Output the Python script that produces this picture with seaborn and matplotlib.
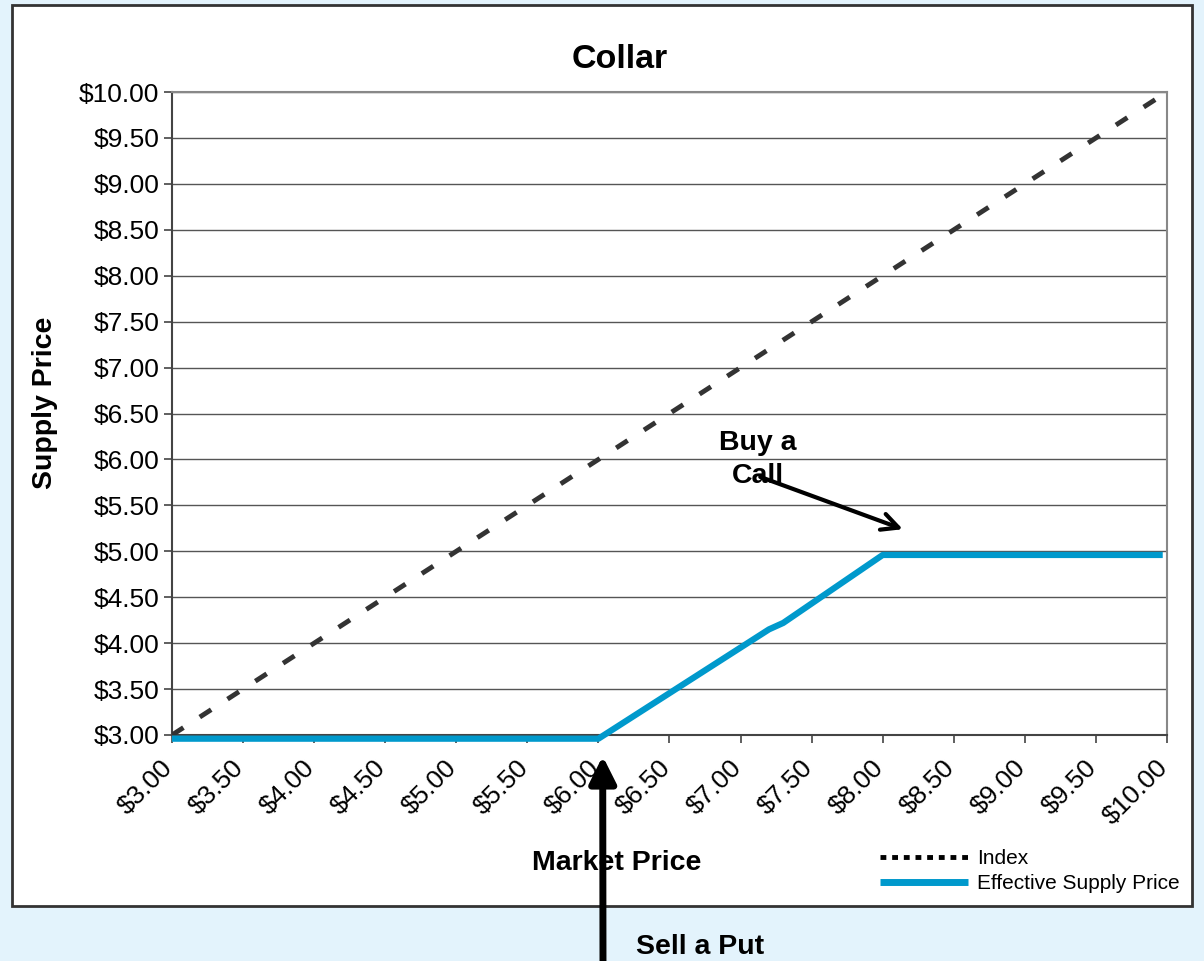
import matplotlib
matplotlib.use("Agg")
import matplotlib.pyplot as plt
from matplotlib.lines import Line2D
from matplotlib.patches import Rectangle
from matplotlib.transforms import ScaledTranslation
import numpy as np
import pandas as pd
import seaborn as sns

# Series values
index_x = [3.0, 9.92]
index_y = [3.0, 9.92]
supply_x = [3.0, 6.0, 7.2, 7.3, 8.0, 9.97]
supply_y = [2.96, 2.96, 4.15, 4.22, 4.96, 4.96]
tick_values = [3.0 + 0.5 * i for i in range(15)]
tick_labels = [f"${v:.2f}" for v in tick_values]

BLUE = "#0099CC"
BG = "#E3F3FC"

sns.set_theme(style="white")
plt.rcParams["font.family"] = ["Liberation Sans", "DejaVu Sans"]
plt.rcParams["text.color"] = "black"
plt.rcParams["xtick.color"] = "black"
plt.rcParams["ytick.color"] = "black"

fig = plt.figure(figsize=(12.04, 9.61), dpi=100, facecolor=BG)
W, H = 1204, 961

# white chart box with dark frame
fig.patches.append(Rectangle((12 / W, 1 - 906 / H), 1180 / W, 901 / H,
                             transform=fig.transFigure, facecolor="white",
                             edgecolor="#333333", linewidth=2, zorder=-5))

ax = fig.add_axes([172 / W, 1 - 735 / H, 995 / W, 643 / H])
ax.set_zorder(2)
ax.set_facecolor("white")

idx_df = pd.DataFrame({"x": index_x, "y": index_y})
sup_df = pd.DataFrame({"x": supply_x, "y": supply_y})
sns.lineplot(data=idx_df, x="x", y="y", ax=ax, color="#333333", lw=3.5,
             linestyle=(0, (2.8, 4.0)), zorder=3)
sns.lineplot(data=sup_df, x="x", y="y", ax=ax, color=BLUE, lw=4.5,
             zorder=4, clip_on=False, solid_capstyle="butt")

ax.set_xlim(3, 10)
ax.set_ylim(3, 10)
ax.set_yticks(tick_values)
ax.set_yticklabels(tick_labels, fontsize=19, color="black")
ax.set_xticks(tick_values)
ax.set_xticklabels(tick_labels, fontsize=19, color="black", rotation=45,
                   ha="right", va="center", rotation_mode="anchor")
ax.tick_params(axis="both", which="both", direction="out", length=6,
               width=1.2, color="#444444", pad=3, bottom=True, left=True)
ax.tick_params(axis="x", pad=15)
# nudge rotated labels slightly left
shift = ScaledTranslation(-0.03, 0, fig.dpi_scale_trans)
for lbl in ax.get_xticklabels():
    lbl.set_transform(lbl.get_transform() + shift)
ax.set_xlabel("")
ax.set_ylabel("")

ax.yaxis.grid(True, color="#555555", linewidth=1.0)
ax.xaxis.grid(False)
ax.set_axisbelow(True)
for side in ["top", "right"]:
    ax.spines[side].set_color("#888888")
    ax.spines[side].set_linewidth(1.5)
for side in ["left", "bottom"]:
    ax.spines[side].set_color("#444444")
    ax.spines[side].set_linewidth(1.5)

fig.text(620 / W, 1 - 59 / H, "Collar", fontsize=24.5, fontweight="bold",
         ha="center", va="center")
fig.text(45 / W, 1 - 403 / H, "Supply Price", fontsize=20.5, fontweight="bold",
         ha="center", va="center", rotation=90)
fig.text(617 / W, 1 - 863 / H, "Market Price", fontsize=20.5, fontweight="bold",
         ha="center", va="center")

# "Buy a Call" annotation
ax.text(7.12, 6.0, "Buy a\nCall", fontsize=20.5, fontweight="bold",
        ha="center", va="center", linespacing=1.36, zorder=6)
ax.annotate("", xy=(8.16, 5.23), xytext=(7.12, 5.82),
            arrowprops=dict(arrowstyle="->", color="black", lw=3,
                            mutation_scale=30), zorder=7)

# "Sell a Put" annotation from below the chart
ax.annotate("", xy=(6.03, 2.77), xycoords="data",
            xytext=(603 / W, -0.01), textcoords="figure fraction",
            arrowprops=dict(arrowstyle="-|>", color="black", lw=5,
                            mutation_scale=40, shrinkA=0, shrinkB=0),
            annotation_clip=False, zorder=8)
fig.text(700 / W, 1 - 947 / H, "Sell a Put", fontsize=20.5, fontweight="bold",
         ha="center", va="center")

# legend
handles = [Line2D([], [], color="black", lw=3.5, linestyle=(0, (1.2, 1.2))),
           Line2D([], [], color=BLUE, lw=5, solid_capstyle="butt")]
fig.legend(handles, ["Index", "Effective Supply Price"], loc="center left",
           bbox_to_anchor=(880 / W, 1 - 871 / H), frameon=False, fontsize=15,
           handlelength=4.2, handletextpad=0.45, labelspacing=0.28,
           borderaxespad=0, borderpad=0)

fig.savefig("out.png", dpi=100, facecolor=BG)
